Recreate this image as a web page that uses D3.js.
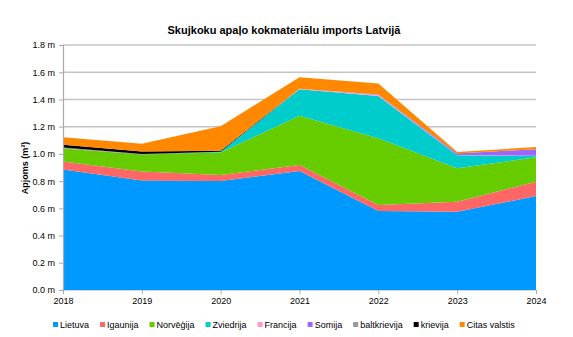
<!DOCTYPE html>
<html>
<head>
<meta charset="utf-8">
<script src="https://cdn.jsdelivr.net/npm/d3@7"></script>
<style>
  html, body { margin: 0; padding: 0; background: #fff; }
  text { font-family: "Liberation Sans", Arial, sans-serif; }
</style>
</head>
<body>
<svg id="chart" width="573" height="337"></svg>
<script>
const years = [2018, 2019, 2020, 2021, 2022, 2023, 2024];
const seriesNames = ["Lietuva", "Igaunija", "Norvēģija", "Zviedrija", "Francija", "Somija", "baltkrievija", "krievija", "Citas valstis"];
const lietuva      = [0.885, 0.805, 0.800, 0.875, 0.580, 0.575, 0.690];
const igaunija     = [0.060, 0.065, 0.045, 0.043, 0.045, 0.074, 0.105];
const norvegija    = [0.095, 0.125, 0.165, 0.362, 0.489, 0.246, 0.180];
const zviedrija    = [0.000, 0.000, 0.005, 0.195, 0.311, 0.095, 0.010];
const francija     = [0.000, 0.000, 0.000, 0.003, 0.008, 0.002, 0.002];
const somija       = [0.000, 0.000, 0.000, 0.000, 0.004, 0.010, 0.048];
const baltkrievija = [0.007, 0.005, 0.000, 0.000, 0.000, 0.000, 0.000];
const krievija     = [0.020, 0.018, 0.008, 0.000, 0.000, 0.000, 0.000];
const citas        = [0.056, 0.057, 0.180, 0.085, 0.081, 0.012, 0.015];
const yTicks = [0, 0.2, 0.4, 0.6, 0.8, 1.0, 1.2, 1.4, 1.6, 1.8];
const title = "Skujkoku apaļo kokmateriālu imports Latvijā";
const yTitle = "Apjoms (m³)";

const colors = ["#0099FF", "#FF6666", "#66CC00", "#00CCCC", "#FF99CC", "#9966FF", "#999999", "#000000", "#FF8800"];
const values = [lietuva, igaunija, norvegija, zviedrija, francija, somija, baltkrievija, krievija, citas];

const rows = years.map((yr, i) => {
  const r = { year: yr };
  seriesNames.forEach((n, k) => r[n] = values[k][i]);
  return r;
});

const svg = d3.select("#chart");
const pLeft = 63, pRight = 536, pTop = 45, pBottom = 290;

const x = d3.scaleLinear().domain([2018, 2024]).range([pLeft, pRight]);
const y = d3.scaleLinear().domain([0, 1.8]).range([pBottom, pTop]);

// title
svg.append("text").attr("x", 284).attr("y", 34).attr("text-anchor", "middle")
  .attr("font-size", "11px").attr("font-weight", "bold").attr("fill", "#000").text(title);

// gridlines
svg.append("g").selectAll("line").data(yTicks).join("line")
  .attr("x1", pLeft).attr("x2", pRight)
  .attr("y1", d => y(d)).attr("y2", d => y(d))
  .attr("stroke", "#c4c4c4").attr("stroke-width", 1.5);

// stacked areas
const stack = d3.stack().keys(seriesNames);
const layers = stack(rows);
const area = d3.area()
  .x(d => x(d.data.year))
  .y0(d => y(d[0]))
  .y1(d => y(d[1]));
svg.append("g").selectAll("path").data(layers).join("path")
  .attr("d", area)
  .attr("fill", (d, i) => colors[i]);

// y axis
const yAxis = d3.axisLeft(y).tickValues(yTicks).tickFormat(d => d3.format(".1f")(d) + " m").tickSize(4).tickPadding(4);
const gy = svg.append("g").attr("transform", `translate(${pLeft},0)`).call(yAxis);
gy.select(".domain").attr("stroke", "#aaaaaa").attr("stroke-width", 1.2);
gy.selectAll(".tick line").attr("stroke", "#aaaaaa");
gy.selectAll(".tick text").attr("font-size", "9px").attr("fill", "#000")
  .attr("font-family", "Liberation Sans, Arial, sans-serif");

// x axis
const xAxis = d3.axisBottom(x).tickValues(years).tickFormat(d3.format("d")).tickSize(4).tickSizeOuter(0).tickPadding(4);
const gx = svg.append("g").attr("transform", `translate(0,${pBottom})`).call(xAxis);
gx.select(".domain").remove();
gx.selectAll(".tick line").attr("stroke", "#aaaaaa");
gx.selectAll(".tick text").attr("font-size", "9px").attr("fill", "#000")
  .attr("font-family", "Liberation Sans, Arial, sans-serif");

// y title
svg.append("text").attr("transform", "translate(28,168) rotate(-90)")
  .attr("text-anchor", "middle").attr("font-size", "9px").attr("font-weight", "bold")
  .attr("fill", "#000").text(yTitle);

// legend
const legend = svg.append("g").attr("transform", "translate(0,325)");
let lx = 53;
seriesNames.forEach((n, i) => {
  const g = legend.append("g").attr("transform", `translate(${lx},0)`);
  g.append("rect").attr("x", 0).attr("y", -3).attr("width", 5).attr("height", 5).attr("fill", colors[i]);
  const t = g.append("text").attr("x", 7).attr("y", 3).attr("font-size", "9px").attr("fill", "#000").text(n);
  lx += 7 + t.node().getComputedTextLength() + 11;
});
</script>
</body>
</html>
